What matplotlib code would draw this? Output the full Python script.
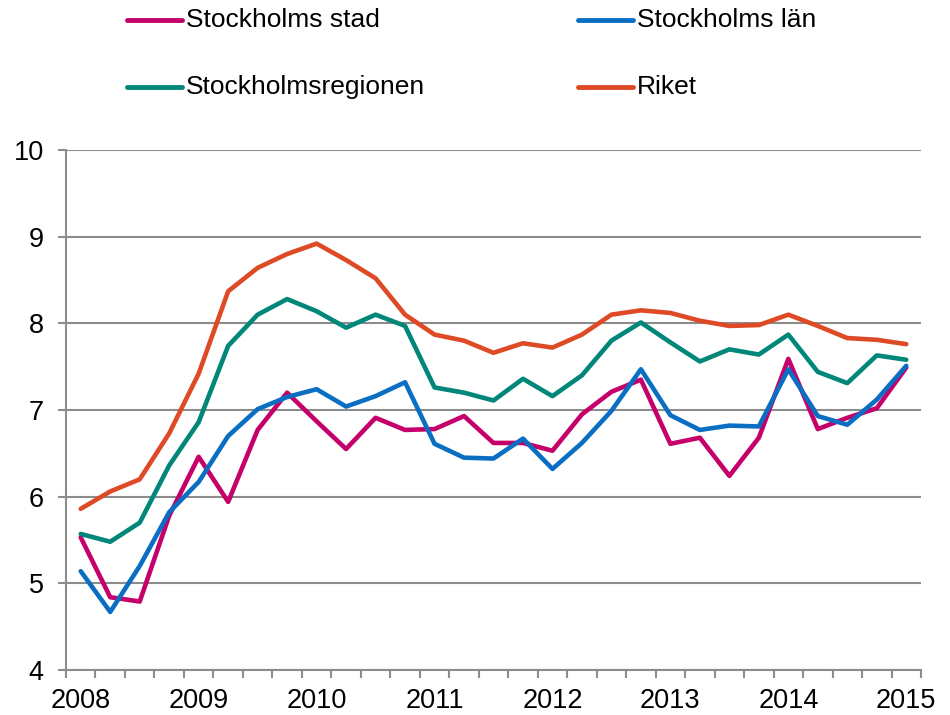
import matplotlib
matplotlib.use("Agg")
import matplotlib.pyplot as plt
from matplotlib.lines import Line2D
import numpy as np

plt.rcParams['font.family'] = ['Liberation Sans', 'DejaVu Sans']

years = ["2008", "2009", "2010", "2011", "2012", "2013", "2014", "2015"]

stockholms_stad = [5.53, 4.84, 4.79, 5.78, 6.46, 5.94, 6.77, 7.20, 6.87, 6.55,
                   6.91, 6.77, 6.78, 6.93, 6.62, 6.62, 6.53, 6.95, 7.21, 7.35,
                   6.61, 6.68, 6.24, 6.68, 7.59, 6.78, 6.91, 7.02, 7.49]
stockholms_lan = [5.14, 4.67, 5.20, 5.82, 6.17, 6.70, 7.01, 7.15, 7.24, 7.04,
                  7.16, 7.32, 6.61, 6.45, 6.44, 6.67, 6.32, 6.62, 6.99, 7.47,
                  6.94, 6.77, 6.82, 6.81, 7.47, 6.93, 6.83, 7.12, 7.51]
stockholmsregionen = [5.57, 5.48, 5.70, 6.36, 6.86, 7.74, 8.10, 8.28, 8.14, 7.95,
                      8.10, 7.97, 7.26, 7.20, 7.11, 7.36, 7.16, 7.40, 7.80, 8.01,
                      7.78, 7.56, 7.70, 7.64, 7.87, 7.44, 7.31, 7.63, 7.58]
riket = [5.86, 6.06, 6.20, 6.73, 7.42, 8.37, 8.64, 8.80, 8.92, 8.73,
         8.52, 8.10, 7.87, 7.80, 7.66, 7.77, 7.72, 7.87, 8.10, 8.15,
         8.12, 8.03, 7.97, 7.98, 8.10, 7.97, 7.83, 7.81, 7.76]

names = ["Stockholms stad", "Stockholms län", "Stockholmsregionen", "Riket"]
series = [stockholms_stad, stockholms_lan, stockholmsregionen, riket]
colors = ["#C6006B", "#0A6FC2", "#00877A", "#DE4A26"]

fig = plt.figure(figsize=(9.5, 7.15), dpi=100)
ax = fig.add_axes([66/950, 1-670/715, (921-66)/950, (670-150)/715])

x = np.arange(len(riket))
for vals, c, n in zip(series, colors, names):
    ax.plot(x, vals, color=c, lw=3.3, solid_joinstyle='round',
            solid_capstyle='round', label=n, zorder=3)

ax.set_xlim(-0.5, len(riket) - 0.5)
ax.set_ylim(4, 10)
ax.set_yticks(np.arange(4, 11, 1))
ax.yaxis.grid(True, color='#8c8c8c', lw=1.5, zorder=0)
ax.set_axisbelow(True)

ax.set_xticks(np.arange(0, len(riket), 4))
ax.set_xticklabels(years)
ax.set_xticks(np.arange(-0.5, len(riket), 1), minor=True)
ax.tick_params(axis='x', which='major', length=0, pad=13, labelsize=19.5)
ax.tick_params(axis='x', which='minor', length=5.5, width=1.5, color='#8c8c8c', direction='out')
ax.tick_params(axis='y', which='major', length=5.5, width=1.5, color='#8c8c8c',
               direction='out', labelsize=19.5, pad=10.5)

for s in ['top', 'right']:
    ax.spines[s].set_visible(False)
for s in ['left', 'bottom']:
    ax.spines[s].set_color('#8c8c8c')
    ax.spines[s].set_linewidth(1.5)

# legend (2 columns, manual layout)
pos = [(127, 20), (578, 20), (127, 87), (578, 87)]
for (px, py), c, n in zip(pos, colors, names):
    fx0 = px / 950
    fx1 = (px + 55) / 950
    fy = 1 - py / 715
    fig.add_artist(Line2D([fx0, fx1], [fy, fy], color=c, lw=3.5,
                          solid_capstyle='round', transform=fig.transFigure))
    fig.text((px + 59) / 950, fy, n, fontsize=19, va='center', ha='left')

fig.savefig("out.png", dpi=100)
